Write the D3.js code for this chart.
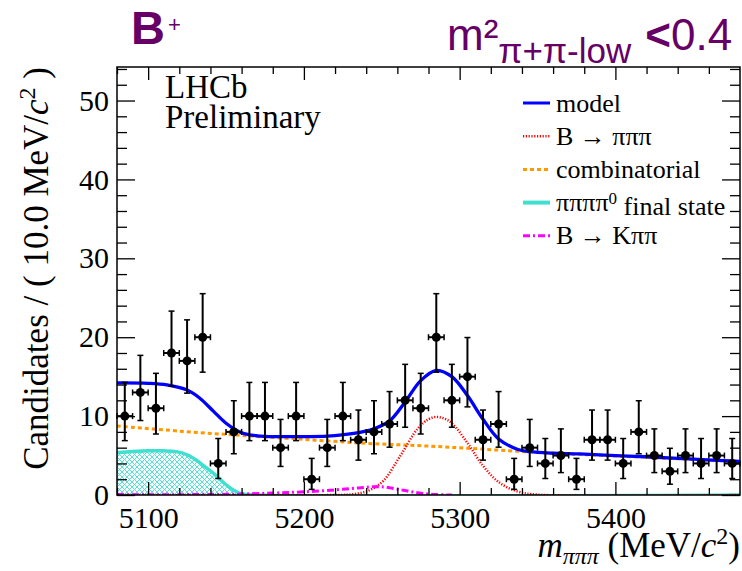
<!DOCTYPE html>
<html>
<head>
<meta charset="utf-8">
<script src="https://cdn.jsdelivr.net/npm/d3@7"></script>
<style>
    body { margin: 0; background: #fff; }
    svg text { font-family: "Liberation Serif", "Times New Roman", serif; }
</style>
</head>
<body>
<div id="mass-fit"></div>
<script>

// data points, 10 MeV bins
var binCenters = [5085, 5095, 5105, 5115, 5125, 5135, 5145, 5155, 5165, 5175,
                  5185, 5195, 5205, 5215, 5225, 5235, 5245, 5255, 5265, 5275,
                  5285, 5295, 5305, 5315, 5325, 5335, 5345, 5355, 5365, 5375,
                  5385, 5395, 5405, 5415, 5425, 5435, 5445, 5455, 5465, 5475];
var counts = [10, 13, 11, 18, 17, 20, 4, 8, 10, 10,
              6, 10, 2, 6, 10, 7, 8, 9, 12, 11,
              20, 12, 15, 7, 9, 2, 6, 4, 5, 2,
              7, 7, 4, 8, 5, 3, 5, 4, 5, 4];

// poisson 68% interval limits by count
var poissonLow  = {2: 0.71, 3: 1.37, 4: 2.09, 5: 2.84, 6: 3.62, 7: 4.42, 8: 5.23, 9: 6.06,
                   10: 6.89, 11: 7.73, 12: 8.59, 13: 9.44, 15: 11.17, 17: 12.91, 18: 13.79, 20: 15.57};
var poissonHigh = {2: 4.64, 3: 5.92, 4: 7.16, 5: 8.38, 6: 9.58, 7: 10.77, 8: 11.95, 9: 13.11,
                   10: 14.27, 11: 15.42, 12: 16.56, 13: 17.70, 15: 19.96, 17: 22.20, 18: 23.31, 20: 25.52};

// fit components (mass, candidates)
var modelMass = [5080, 5100, 5112, 5125, 5133, 5142, 5150, 5160, 5170, 5185, 5200, 5215, 5232, 5245, 5255,
                 5265, 5275, 5285, 5295, 5305, 5315, 5325, 5337, 5345, 5360, 5377, 5400, 5420, 5450, 5480];
var modelVal  = [14.2, 14.15, 13.95, 13.3, 12.3, 10.6, 9.1, 7.9, 7.5, 7.4, 7.4, 7.45, 7.8, 8.4, 9.4,
                 11.8, 14.5, 15.8, 15.0, 12.6, 9.6, 7.1, 5.8, 5.5, 5.3, 5.2, 5.0, 4.85, 4.55, 4.25];

var sigMass = [5080, 5220, 5232, 5242, 5251, 5262, 5273, 5280, 5285, 5290, 5295, 5305, 5315, 5326, 5338, 5350, 5480];
var sigVal  = [0, 0, 0.1, 0.6, 1.8, 5.0, 8.4, 9.6, 9.9, 9.7, 9.1, 6.6, 3.7, 1.5, 0.4, 0.05, 0];

var combMass = [5080, 5120, 5160, 5200, 5240, 5280, 5320, 5360, 5400, 5440, 5480];
var combVal  = [8.75, 8.1, 7.55, 7.05, 6.55, 6.2, 5.75, 5.3, 4.95, 4.6, 4.25];

var lowMass = [5080, 5090, 5100, 5110, 5118, 5125, 5131, 5137, 5142, 5150, 5155, 5160, 5170, 5480];
var lowVal  = [5.35, 5.5, 5.6, 5.6, 5.5, 5.1, 4.4, 3.5, 2.75, 1.3, 0.6, 0.15, 0, 0];

var kppMass = [5080, 5150, 5180, 5200, 5220, 5235, 5245, 5252, 5260, 5268, 5276, 5285, 5295];
var kppVal  = [0.05, 0.08, 0.25, 0.4, 0.65, 0.9, 1.05, 1.0, 0.75, 0.45, 0.2, 0.05, 0];

// axis ticks
var xMajorTicks = [5100, 5200, 5300, 5400];
var xMinorTicks = [5080, 5120, 5140, 5160, 5180, 5220, 5240, 5260, 5280, 5320, 5340, 5360, 5380, 5420, 5440, 5460];
var yMajorTicks = [0, 10, 20, 30, 40, 50];
var yMinorTicks = [2, 4, 6, 8, 12, 14, 16, 18, 22, 24, 26, 28, 32, 34, 36, 38, 42, 44, 46, 48, 52, 54];

var legendLabels = ["model", "B \u2192 \u03c0\u03c0\u03c0", "combinatorial", "\u03c0\u03c0\u03c0\u03c0", "B \u2192 K\u03c0\u03c0"];

function MassFit(){

    var margin = {top: 67, right: 2, bottom: 76, left: 117},
        width = 742 - margin.left - margin.right,
        height = 571 - margin.top - margin.bottom;

    var x = d3.scaleLinear()
        .domain([5080, 5480])
        .range([0, width]);

    var y = d3.scaleLinear()
        .domain([0, 54.25])
        .range([height, 0]);

    var root = d3.select('#mass-fit')
        .append("svg")
        .attr("width", 742)
        .attr("height", 571);

    var defs = root.append("defs");
    defs.append("clipPath").attr("id", "plot-clip")
        .append("rect").attr("x", 0).attr("y", 0).attr("width", width).attr("height", height);
    var pat = defs.append("pattern")
        .attr("id", "hatch")
        .attr("width", 5).attr("height", 5)
        .attr("patternUnits", "userSpaceOnUse");
    pat.append("path")
        .attr("d", "M0,0 L5,5 M5,0 L0,5 M-1,4 L1,6 M4,-1 L6,1")
        .attr("stroke", "#40e0d0")
        .attr("stroke-width", 0.9);

    var svg = root.append("g")
        .attr("transform", "translate(" + margin.left + "," + margin.top + ")");

    var plot = svg.append("g").attr("clip-path", "url(#plot-clip)");

    function pts(ms, vs){ return ms.map(function(m, i){ return [m, vs[i]]; }); }

    var line = d3.line()
        .x(function(d){ return x(d[0]); })
        .y(function(d){ return y(d[1]); })
        .curve(d3.curveCatmullRom.alpha(0.5));

    var area = d3.area()
        .x(function(d){ return x(d[0]); })
        .y0(y(0))
        .y1(function(d){ return y(d[1]); })
        .curve(d3.curveCatmullRom.alpha(0.5));

    // low mass component, hatched
    plot.append("path")
        .datum(pts(lowMass, lowVal))
        .attr("d", area)
        .attr("fill", "url(#hatch)");
    plot.append("path")
        .datum(pts(lowMass, lowVal))
        .attr("d", line)
        .attr("fill", "none")
        .attr("stroke", "#40e0d0")
        .attr("stroke-width", 3.5);

    plot.append("path")
        .datum(pts(combMass, combVal))
        .attr("d", line)
        .attr("fill", "none")
        .attr("stroke", "#ff9900")
        .attr("stroke-width", 3)
        .attr("stroke-dasharray", "4,3");

    plot.append("path")
        .datum(pts(sigMass, sigVal))
        .attr("d", line)
        .attr("fill", "none")
        .attr("stroke", "#ff0000")
        .attr("stroke-width", 2.5)
        .attr("stroke-dasharray", "1.2,1.6");

    plot.append("path")
        .datum(pts(kppMass, kppVal))
        .attr("d", line)
        .attr("fill", "none")
        .attr("stroke", "#ff00ff")
        .attr("stroke-width", 3)
        .attr("stroke-dasharray", "7,3,2,3");

    plot.append("path")
        .datum(pts(modelMass, modelVal))
        .attr("d", line)
        .attr("fill", "none")
        .attr("stroke", "#0000ff")
        .attr("stroke-width", 3.3);

    // data with error bars
    var pts_g = svg.append('g')
        .selectAll("g.pt")
        .data(binCenters.map(function(c, i){ return {c: c, n: counts[i]}; }))
        .enter()
        .append("g")
        .attr("class", "pt");

    pts_g.append("line")
        .attr("x1", function(d){ return x(d.c); })
        .attr("x2", function(d){ return x(d.c); })
        .attr("y1", function(d){ return y(poissonLow[d.n]); })
        .attr("y2", function(d){ return y(poissonHigh[d.n]); })
        .attr("stroke", "#000").attr("stroke-width", 2);
    pts_g.append("line")
        .attr("x1", function(d){ return x(d.c - 5); })
        .attr("x2", function(d){ return x(d.c + 5); })
        .attr("y1", function(d){ return y(d.n); })
        .attr("y2", function(d){ return y(d.n); })
        .attr("stroke", "#000").attr("stroke-width", 2);
    // end caps
    [function(d){ return y(poissonLow[d.n]); }, function(d){ return y(poissonHigh[d.n]); }].forEach(function(fy){
        pts_g.append("line")
            .attr("x1", function(d){ return x(d.c) - 3; })
            .attr("x2", function(d){ return x(d.c) + 3; })
            .attr("y1", fy).attr("y2", fy)
            .attr("stroke", "#000").attr("stroke-width", 1.5);
    });
    [-5, 5].forEach(function(off){
        pts_g.append("line")
            .attr("x1", function(d){ return x(d.c + off); })
            .attr("x2", function(d){ return x(d.c + off); })
            .attr("y1", function(d){ return y(d.n) - 3; })
            .attr("y2", function(d){ return y(d.n) + 3; })
            .attr("stroke", "#000").attr("stroke-width", 1.5);
    });
    pts_g.append("circle")
        .attr("cx", function(d){ return x(d.c); })
        .attr("cy", function(d){ return y(d.n); })
        .attr("r", 4.5)
        .style("fill", "#000");

    // axes, ticks pointing inward on all four sides
    function clean(g){
        g.select(".domain").remove();
        g.selectAll("line").attr("stroke", "#000").attr("stroke-width", 1.3);
        g.attr("font-family", null).attr("font-size", null);
        g.selectAll("text")
            .style("font-family", '"Liberation Serif", serif')
            .style("font-size", "30px")
            .attr("fill", "#000");
    }

    svg.append("g")
        .attr("transform", "translate(0," + height + ")")
        .call(d3.axisBottom(x).tickValues(xMajorTicks).tickSize(-13).tickPadding(12).tickFormat(d3.format("d")))
        .call(clean);
    svg.append("g")
        .attr("transform", "translate(0," + height + ")")
        .call(d3.axisBottom(x).tickValues(xMinorTicks).tickSize(-7).tickFormat(""))
        .call(clean);
    svg.append("g")
        .call(d3.axisTop(x).tickValues(xMajorTicks).tickSize(-13).tickFormat(""))
        .call(clean);
    svg.append("g")
        .call(d3.axisTop(x).tickValues(xMinorTicks).tickSize(-7).tickFormat(""))
        .call(clean);

    svg.append("g")
        .call(d3.axisLeft(y).tickValues(yMajorTicks).tickSize(-18).tickPadding(8))
        .call(clean);
    svg.append("g")
        .call(d3.axisLeft(y).tickValues(yMinorTicks).tickSize(-10).tickFormat(""))
        .call(clean);
    svg.append("g")
        .attr("transform", "translate(" + width + ",0)")
        .call(d3.axisRight(y).tickValues(yMajorTicks).tickSize(-18).tickFormat(""))
        .call(clean);
    svg.append("g")
        .attr("transform", "translate(" + width + ",0)")
        .call(d3.axisRight(y).tickValues(yMinorTicks).tickSize(-10).tickFormat(""))
        .call(clean);

    // frame
    svg.append("rect")
        .attr("width", width).attr("height", height)
        .attr("fill", "none")
        .attr("stroke", "#000")
        .attr("stroke-width", 1.5);

    // LHCb label
    svg.append("text").attr("x", 48).attr("y", 31)
        .style("font-size", "33px").text("LHCb");
    svg.append("text").attr("x", 48).attr("y", 61)
        .style("font-size", "33px").text("Preliminary");

    // legend
    var legStyles = [
        {color: "#0000ff", dash: null, w: 3},
        {color: "#ff0000", dash: "1.2,1.6", w: 2.5},
        {color: "#ff9900", dash: "4,3", w: 3},
        {color: "#40e0d0", dash: null, w: 4},
        {color: "#ff00ff", dash: "7,3,2,3", w: 3}
    ];
    var leg = svg.append("g").attr("transform", "translate(406,36)");
    legendLabels.forEach(function(lab, i){
        var row = leg.append("g").attr("transform", "translate(0," + (i * 33.2) + ")");
        row.append("line")
            .attr("x1", 0).attr("x2", 27)
            .attr("y1", 0).attr("y2", 0)
            .attr("stroke", legStyles[i].color)
            .attr("stroke-width", legStyles[i].w)
            .attr("stroke-dasharray", legStyles[i].dash);
        var t = row.append("text")
            .attr("x", 33).attr("y", 0)
            .attr("dy", "0.33em")
            .style("font-size", "26px")
            .text(lab);
        if (i === 3) {
            t.append("tspan").attr("dy", "-0.45em").style("font-size", "17px").text("0");
            t.append("tspan").attr("dy", "0.45em").text(" final state");
        }
    });

    // axis titles
    var xt = root.append("text")
        .attr("x", 740).attr("y", 557)
        .attr("text-anchor", "end")
        .style("font-size", "35px");
    xt.append("tspan").style("font-style", "italic").text("m");
    xt.append("tspan").style("font-style", "italic").style("font-size", "24px").attr("dy", 7).text("\u03c0\u03c0\u03c0");
    xt.append("tspan").attr("dy", -7).text(" (MeV/");
    xt.append("tspan").style("font-style", "italic").text("c");
    xt.append("tspan").style("font-size", "24px").attr("dy", -13).text("2");
    xt.append("tspan").attr("dy", 13).text(")");

    var yt = root.append("text")
        .attr("transform", "translate(48,67) rotate(-90)")
        .attr("text-anchor", "end")
        .style("font-size", "35px");
    yt.append("tspan").text("Candidates / ( 10.0 MeV/");
    yt.append("tspan").style("font-style", "italic").text("c");
    yt.append("tspan").style("font-size", "24px").attr("dy", -13).text("2");
    yt.append("tspan").attr("dy", 13).text(" )");

    // header in purple
    var sans = '"Liberation Sans", Arial, sans-serif';
    var purple = "#660066";
    var bt = root.append("text").attr("x", 131).attr("y", 44)
        .style("font-family", sans).attr("fill", purple);
    bt.append("tspan").style("font-size", "47px").style("font-weight", "bold").text("B");
    bt.append("tspan").style("font-size", "22px").attr("dx", 3).attr("dy", -12).text("+");

    var ht = root.append("text").attr("x", 447).attr("y", 50)
        .style("font-family", sans).attr("fill", purple)
        .style("font-size", "44px");
    ht.append("tspan").text("m\u00b2");
    ht.append("tspan").style("font-size", "35px").attr("dy", 13).text("\u03c0+\u03c0-low");
    ht.append("tspan").attr("dy", -13).attr("dx", 14).style("font-weight", "bold").text("<");
    ht.append("tspan").text("0.4");
}

MassFit();
</script>
</body>
</html>
